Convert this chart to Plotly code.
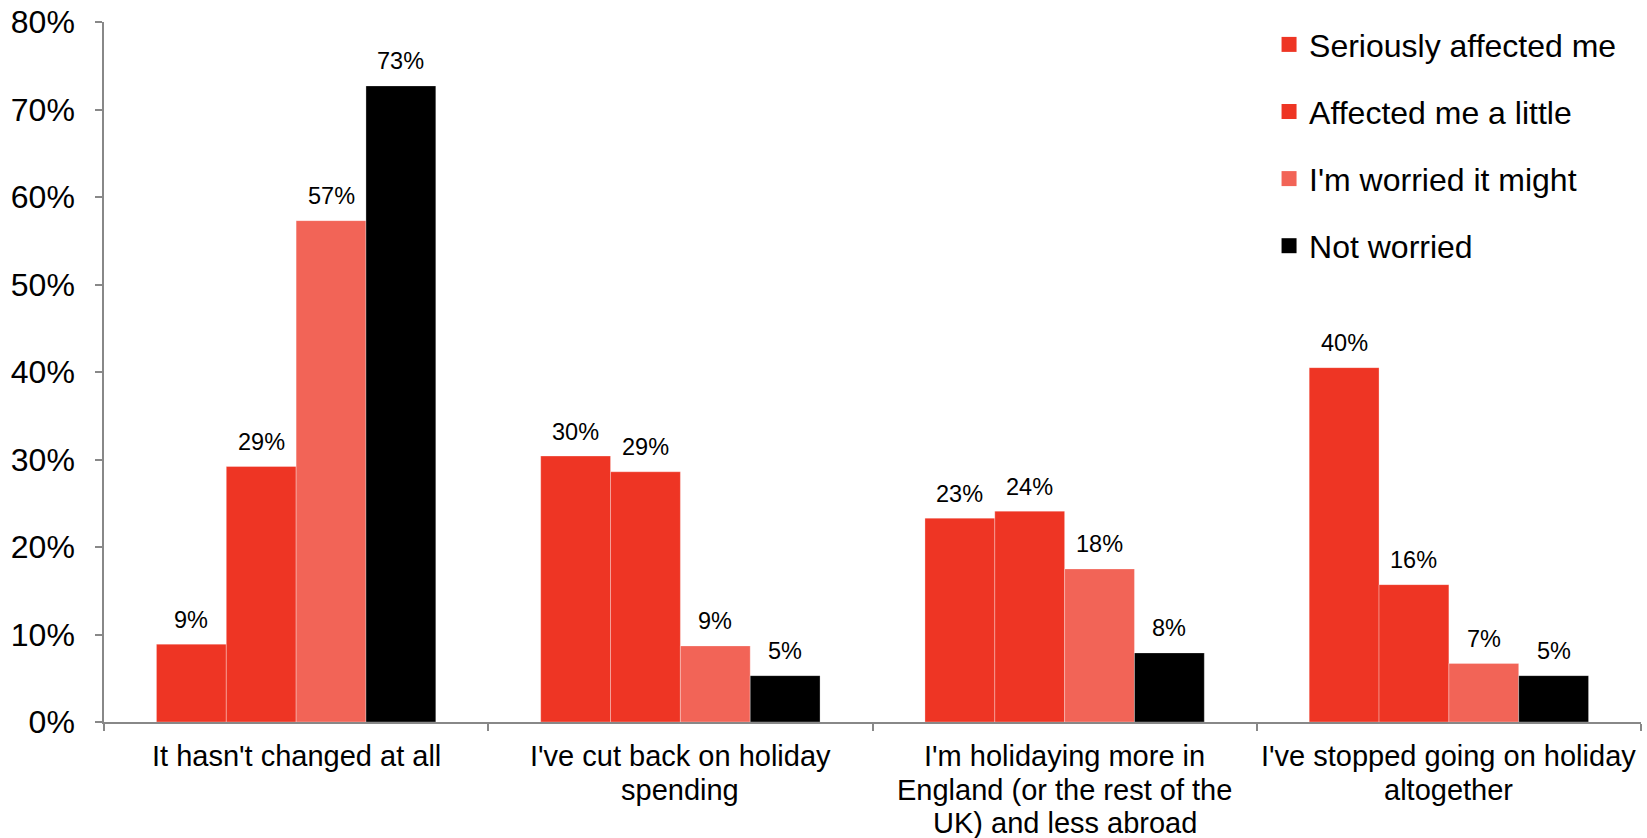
import plotly.graph_objects as go

# Survey categories (each split into display lines)
categories = [
    "It hasn't changed at all",
    "I've cut back on holiday spending",
    "I'm holidaying more in England (or the rest of the UK) and less abroad",
    "I've stopped going on holiday altogether",
]
category_lines = [
    ["It hasn't changed at all"],
    ["I've cut back on holiday", "spending"],
    ["I'm holidaying more in", "England (or the rest of the", "UK) and less abroad"],
    ["I've stopped going on holiday", "altogether"],
]

series_names = [
    "Seriously affected me",
    "Affected me a little",
    "I'm worried it might",
    "Not worried",
]
seriously_affected = [8.9, 30.4, 23.3, 40.5]
affected_little = [29.2, 28.6, 24.1, 15.7]
worried_might = [57.3, 8.7, 17.5, 6.7]
not_worried = [72.7, 5.3, 7.9, 5.3]
series_values = [seriously_affected, affected_little, worried_might, not_worried]
series_colors = ["#EE3524", "#EE3524", "#F26457", "#000000"]

y_ticks = [0, 10, 20, 30, 40, 50, 60, 70, 80]
y_tick_labels = [f"{v}%" for v in y_ticks]

FONT = "Liberation Sans, Arial, sans-serif"
BARGAP = 0.273

fig = go.Figure()
x_idx = list(range(len(categories)))
for k, (name, vals, col) in enumerate(zip(series_names, series_values, series_colors)):
    fig.add_trace(go.Bar(
        name=name,
        x=x_idx,
        y=vals,
        marker=dict(color=col, line=dict(color="rgba(255,255,255,0.3)", width=1)),
        showlegend=False,
        hoverinfo="skip",
    ))

# legend entries with square swatches
for k, (name, col) in enumerate(zip(series_names, series_colors)):
    fig.add_trace(go.Scatter(
        name=name, x=[None], y=[None], mode="markers",
        marker=dict(symbol="square", size=15, color=col),
        legendgroup=f"g{k}", showlegend=True,
    ))

annotations = []
# value labels above each bar, positioned from the group layout
n = len(series_names)
group_w = 1 - BARGAP
bar_w = group_w / n
for k, vals in enumerate(series_values):
    for i, v in enumerate(vals):
        annotations.append(dict(
            x=i - group_w / 2 + (k + 0.5) * bar_w,
            y=v,
            xref="x", yref="y",
            text=f"{v:.0f}%",
            showarrow=False,
            yanchor="middle",
            yshift=24.5,
            font=dict(family=FONT, size=23.5, color="#000000"),
        ))

# category labels under the axis, one line each
for i, lines in enumerate(category_lines):
    for j, line in enumerate(lines):
        annotations.append(dict(
            x=i, y=0, xref="x", yref="paper",
            text=line, showarrow=False,
            yanchor="middle", yshift=-34 - 33.7 * j,
            font=dict(family=FONT, size=29, color="#000000"),
        ))

fig.update_layout(
    width=1647, height=838,
    margin=dict(l=104, r=6, t=22, b=116, autoexpand=False),
    paper_bgcolor="white", plot_bgcolor="white",
    barmode="group", bargap=BARGAP, bargroupgap=0,
    font=dict(family=FONT, color="#000000"),
    showlegend=True,
    legend=dict(
        x=0.758, y=1.007, xanchor="left", yanchor="top",
        traceorder="grouped", tracegroupgap=22.5,
        font=dict(family=FONT, size=32, color="#000000"),
        bgcolor="rgba(0,0,0,0)",
    ),
    annotations=annotations,
)
fig.update_xaxes(
    type="linear", range=[-0.5, 3.5],
    tickvals=[-0.5, 0.5, 1.5, 2.5, 3.5],
    showticklabels=False, automargin=False,
    ticks="outside", ticklen=7, tickcolor="#888888", tickwidth=1.5,
    showline=True, linecolor="#888888", linewidth=1.5,
    showgrid=False, zeroline=False,
)
fig.update_yaxes(
    range=[0, 80], tickvals=y_ticks, ticktext=y_tick_labels,
    ticks="outside", ticklen=7, tickcolor="#888888", tickwidth=1.5,
    ticklabelstandoff=14, automargin=False,
    showline=True, linecolor="#888888", linewidth=1.5,
    showgrid=False, zeroline=False,
    tickfont=dict(family=FONT, size=32, color="#000000"),
)

fig.write_html("out.html")
